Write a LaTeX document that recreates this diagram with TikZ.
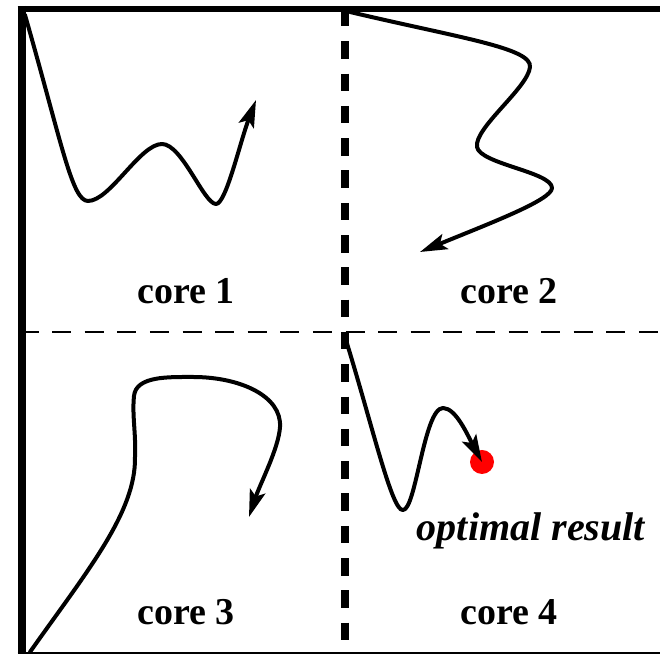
\documentclass[tikz,border=0pt]{standalone}
\usepackage{fontspec}
\setmainfont{Liberation Serif}
\usetikzlibrary{arrows.meta, calc, positioning}
\definecolor{optRed}{HTML}{FF0000}

\begin{document}
\begin{tikzpicture}[
  walk/.style={line width=0.1cm, line cap=round, line join=round,
               -{Stealth[length=0.68cm,width=0.4cm,inset=0.14cm]}},
  core/.style={font=\fontsize{27}{30}\selectfont\bfseries},
  vsplit/.style={line width=0.2175cm, dash pattern=on 0.4375cm off 0.37cm},
  hsplit/.style={line width=0.05cm, dash pattern=on 0.475cm off 0.34cm}]
  \useasboundingbox (0,0) rectangle (16.5,16.4);
  % frame and the four cores
  \coordinate (TL) at (0.5375,16.175);
  \coordinate (BL) at (0.5375,0.075);
  \coordinate (TM) at (8.625,16.175);
  \coordinate (BM) at (8.625,0.075);
  \coordinate (ML) at (0.4875,8.0925);
  \coordinate (MR) at (16.5,8.0925);
  \draw[hsplit] (ML) -- (MR);
  \draw[vsplit] (TM) -- (BM);
  \draw[line width=0.16cm] ($(TL)+(-0.1,0)$) -- (16.5,16.175);
  \draw[line width=0.065cm] ($(BL)+(-0.1,0)$) -- (16.5,0.075);
  \draw[line width=0.2cm] ($(TL)+(0,0.08)$) -- (BL);
  % labels
  \node[core] (c1) at (4.65,9.125)  {core 1};
  \node[core] (c2) at (12.725,9.125) {core 2};
  \node[core] (c3) at (4.65,1.1)    {core 3};
  \node[core] (c4) at (12.725,1.1)  {core 4};
  \node[font=\fontsize{28.5}{31}\selectfont\bfseries\itshape]
    (opt) at (13.275,3.125) {optimal result};
  \node[circle, fill=optRed, minimum size=0.6cm, inner sep=0pt]
    (dot) at (12.05,4.85) {};
  % core 1
  \draw[walk] (0.625,16.025) .. controls (1.55,12.8) and (1.8,11.375) .. (2.2,11.375)
    .. controls (2.75,11.375) and (3.5,12.8) .. (4.05,12.8)
    .. controls (4.55,12.8) and (5.1,11.3) .. (5.4,11.3)
    .. controls (5.65,11.3) and (6.0,12.85) .. (6.4,13.9);
  % core 2
  \draw[walk] (8.75,16.1) .. controls (11.5,15.45) and (13.3,15.2) .. (13.25,14.725)
    .. controls (13.2,14.2) and (11.85,13.2) .. (11.925,12.725)
    .. controls (12,12.3) and (13.8,12.1) .. (13.8,11.7)
    .. controls (13.8,11.4) and (12.2,10.8) .. (10.5,10.1);
  % core 3
  \draw[walk] (0.75,0.1) .. controls (2.2,2.15) and (3.4,3.6) .. (3.375,4.975)
    .. controls (3.4,5.6) and (3.3,6.0) .. (3.35,6.5)
    .. controls (3.4,7.0) and (4.2,6.975) .. (4.825,6.975)
    .. controls (6.0,6.975) and (7.05,6.5) .. (7.0,5.725)
    .. controls (6.97,5.2) and (6.5,4.3) .. (6.225,3.475);
  % core 4
  \draw[walk] (8.625,7.975) .. controls (9.3,5.8) and (9.8,3.6) .. (10.075,3.65)
    .. controls (10.4,3.65) and (10.6,6.2) .. (11.075,6.2)
    .. controls (11.4,6.2) and (11.7,5.5) .. (dot.center);
\end{tikzpicture}
\end{document}
